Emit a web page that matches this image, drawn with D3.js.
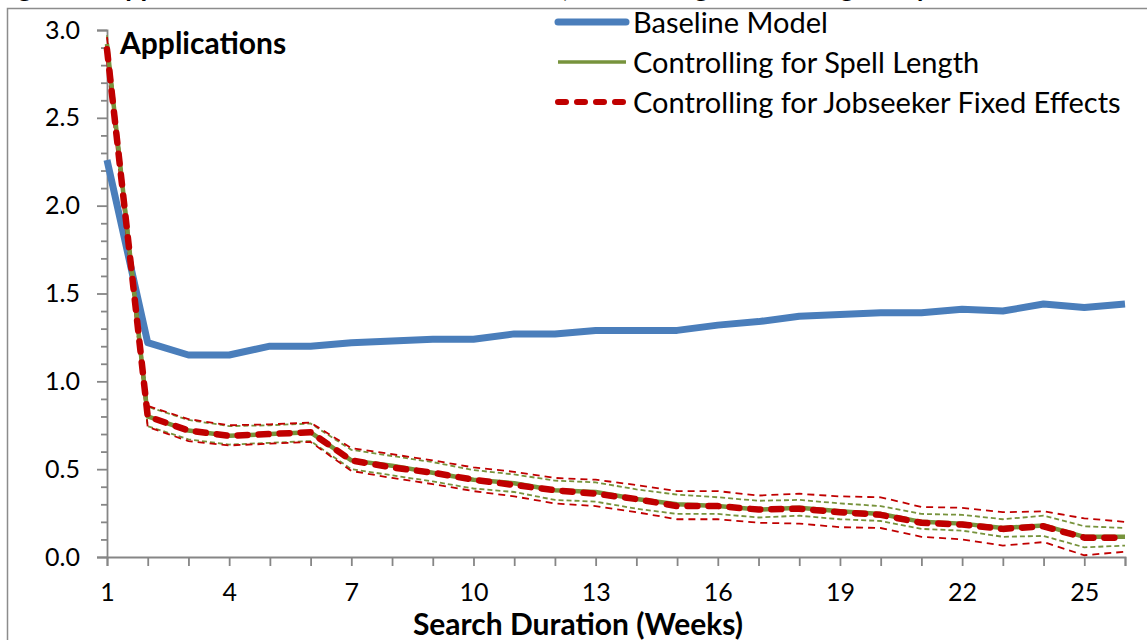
<!DOCTYPE html>
<html>
<head>
<meta charset="utf-8">
<script src="https://cdn.jsdelivr.net/npm/d3@7"></script>
<style>
  body { margin: 0; background: #fff; }
  svg { display: block; }
  text { font-family: Lato, "Open Sans", sans-serif; fill: #000; }
</style>
</head>
<body>
<div id="chart"></div>
<script>
// categories
const weeks = [1, 2, 3, 4, 5, 6, 7, 8, 9, 10, 11, 12, 13, 14, 15, 16, 17, 18, 19, 20, 21, 22, 23, 24, 25, 26];
const xTickLabels = [1, 4, 7, 10, 13, 16, 19, 22, 25];
const yTickLabels = [0, 0.5, 1.0, 1.5, 2.0, 2.5, 3.0];
const yMinorTicks = [0.1, 0.2, 0.3, 0.4, 0.6, 0.7, 0.8, 0.9, 1.1, 1.2, 1.3, 1.4, 1.6, 1.7, 1.8, 1.9, 2.1, 2.2, 2.3, 2.4, 2.6, 2.7, 2.8, 2.9];

// series
const baseline = [2.26, 1.22, 1.15, 1.15, 1.20, 1.20, 1.22, 1.23, 1.24, 1.24, 1.27, 1.27, 1.29, 1.29, 1.29, 1.32, 1.34, 1.37, 1.38, 1.39, 1.39, 1.41, 1.40, 1.44, 1.42, 1.44];
const spell = [2.92, 0.80, 0.72, 0.69, 0.70, 0.71, 0.55, 0.52, 0.48, 0.44, 0.42, 0.38, 0.37, 0.33, 0.30, 0.29, 0.27, 0.28, 0.26, 0.245, 0.20, 0.19, 0.165, 0.18, 0.115, 0.115];
const spellUpper = [2.97, 0.855, 0.78, 0.745, 0.75, 0.76, 0.61, 0.575, 0.54, 0.495, 0.47, 0.435, 0.425, 0.385, 0.355, 0.34, 0.32, 0.325, 0.305, 0.29, 0.245, 0.24, 0.215, 0.235, 0.175, 0.165];
const spellLower = [2.87, 0.745, 0.67, 0.64, 0.65, 0.66, 0.50, 0.465, 0.43, 0.39, 0.37, 0.325, 0.315, 0.275, 0.245, 0.245, 0.225, 0.235, 0.215, 0.205, 0.16, 0.15, 0.115, 0.12, 0.055, 0.065];
const fixedFx = [2.89, 0.80, 0.72, 0.69, 0.70, 0.71, 0.55, 0.51, 0.48, 0.44, 0.41, 0.38, 0.36, 0.33, 0.29, 0.29, 0.27, 0.275, 0.255, 0.24, 0.195, 0.185, 0.16, 0.175, 0.11, 0.11];
const fixedFxUpper = [2.96, 0.86, 0.785, 0.75, 0.755, 0.765, 0.62, 0.585, 0.55, 0.51, 0.485, 0.45, 0.44, 0.41, 0.375, 0.375, 0.35, 0.36, 0.345, 0.34, 0.285, 0.28, 0.255, 0.26, 0.22, 0.20];
const fixedFxLower = [2.82, 0.74, 0.66, 0.635, 0.645, 0.655, 0.49, 0.45, 0.415, 0.375, 0.345, 0.305, 0.29, 0.255, 0.215, 0.215, 0.195, 0.19, 0.17, 0.165, 0.115, 0.10, 0.065, 0.085, 0.01, 0.03];

const legendLabels = ['Baseline Model', 'Controlling for Spell Length', 'Controlling for Jobseeker Fixed Effects'];

const W = 1147, H = 640;
const axisColor = '#868686';

const svg = d3.select('#chart').append('svg')
  .attr('width', W)
  .attr('height', H);

// figure title, cut off above the frame (only descenders show)
svg.append('text')
  .attr('x', -4).attr('y', -3)
  .style('font-size', '27px').style('font-weight', 'bold')
  .text('Figure 1: Applications over the Search Duration, Controlling for Heterogeneity');

// outer frame
svg.append('rect')
  .attr('x', 7.5).attr('y', 8.5)
  .attr('width', 1300).attr('height', 800)
  .attr('fill', '#fff')
  .attr('stroke', '#8c8c8c').attr('stroke-width', 1.5);

const x = d3.scaleLinear().domain([1, 26]).range([107, 1125]);
const y = d3.scaleLinear().domain([0, 3]).range([557, 30]);

// y axis: major + minor ticks
svg.append('g').attr('transform', 'translate(107,0)')
  .call(d3.axisLeft(y).tickValues(yTickLabels).tickSize(10).tickPadding(17).tickFormat(d3.format('.1f')));
svg.append('g').attr('transform', 'translate(107,0)')
  .call(d3.axisLeft(y).tickValues(yMinorTicks).tickSize(6).tickFormat(''))
  .select('.domain').remove();

// x axis
svg.append('g').attr('transform', 'translate(0,557)')
  .call(d3.axisBottom(x).tickValues(weeks).tickSize(9).tickPadding(17)
    .tickFormat(d => xTickLabels.includes(d) ? d : ''));

svg.selectAll('.domain, .tick line')
  .attr('stroke', axisColor).attr('stroke-width', 1.8);
svg.selectAll('.tick text')
  .style('font-size', '25px').attr('fill', '#000');

// series lines
const line = d3.line()
  .x((d, i) => x(weeks[i]))
  .y(d => y(d));

const plot = svg.append('g');

plot.append('path').attr('d', line(baseline))
  .attr('fill', 'none').attr('stroke', '#4A7EBB').attr('stroke-width', 7)
  .attr('stroke-linejoin', 'round');

[spellUpper, spellLower].forEach(s => {
  plot.append('path').attr('d', line(s))
    .attr('fill', 'none').attr('stroke', '#77933C').attr('stroke-width', 1.8)
    .attr('stroke-dasharray', '5,3');
});
[fixedFxUpper, fixedFxLower].forEach(s => {
  plot.append('path').attr('d', line(s))
    .attr('fill', 'none').attr('stroke', '#C00000').attr('stroke-width', 1.8)
    .attr('stroke-dasharray', '7,5');
});

plot.append('path').attr('d', line(spell))
  .attr('fill', 'none').attr('stroke', '#77933C').attr('stroke-width', 4.5)
  .attr('stroke-linejoin', 'round');

plot.append('path').attr('d', line(fixedFx))
  .attr('fill', 'none').attr('stroke', '#C00000').attr('stroke-width', 6.5)
  .attr('stroke-linecap', 'round').attr('stroke-linejoin', 'round')
  .attr('stroke-dasharray', '10,11');

// panel label
svg.append('text')
  .attr('x', 120).attr('y', 54)
  .style('font-size', '30px').style('font-weight', 'bold')
  .text('Applications');

// x axis title
svg.append('text')
  .attr('x', 578).attr('y', 635)
  .attr('text-anchor', 'middle')
  .style('font-size', '30px').style('font-weight', 'bold')
  .text('Search Duration (Weeks)');

// legend
const legendStyles = [
  { color: '#4A7EBB', width: 7, dash: null, cap: 'round' },
  { color: '#77933C', width: 3.5, dash: null, cap: 'butt' },
  { color: '#C00000', width: 6, dash: '8,11', cap: 'round' }
];
const legend = svg.append('g').attr('transform', 'translate(555,22)');
legendLabels.forEach((lab, i) => {
  const g = legend.append('g').attr('transform', `translate(0,${i * 40})`);
  const st = legendStyles[i];
  g.append('line')
    .attr('x1', 3).attr('x2', 71).attr('y1', 0).attr('y2', 0)
    .attr('stroke', st.color).attr('stroke-width', st.width)
    .attr('stroke-linecap', st.cap)
    .attr('stroke-dasharray', st.dash);
  g.append('text')
    .attr('x', 78).attr('y', 11)
    .style('font-size', '29px')
    .text(lab);
});
</script>
</body>
</html>
